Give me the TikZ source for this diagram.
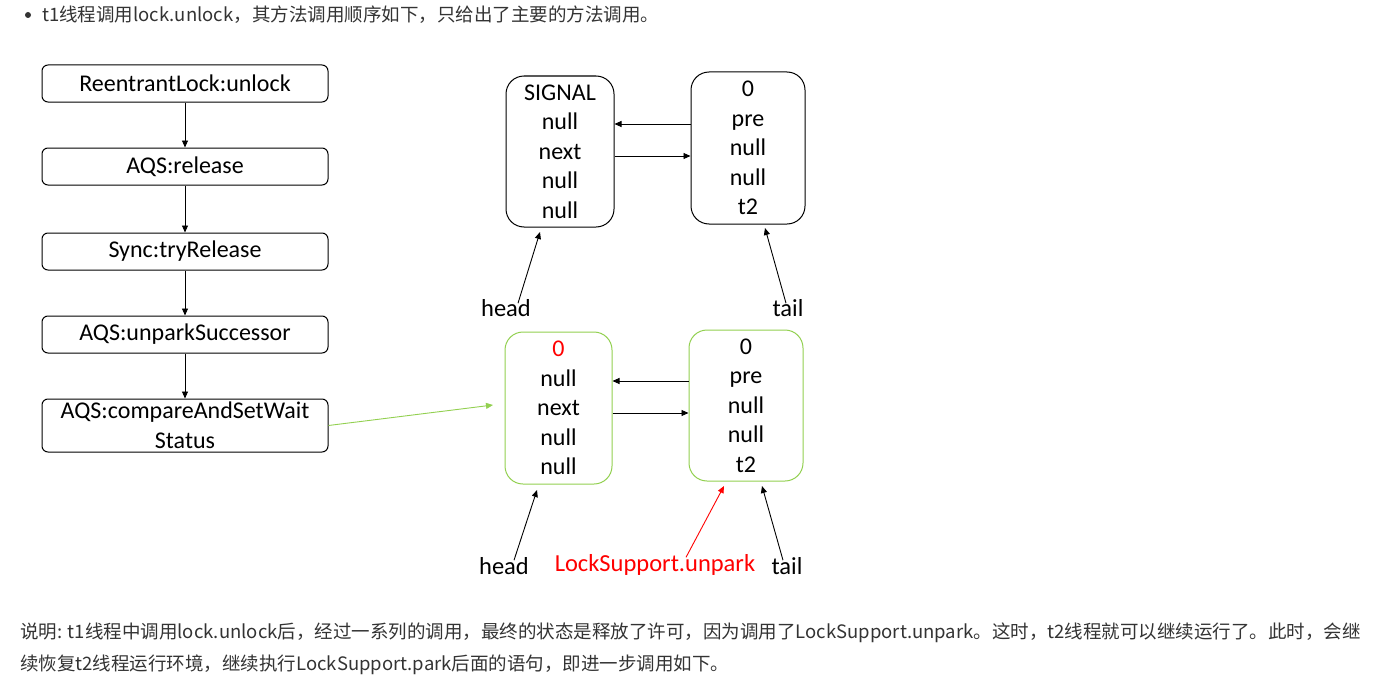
\documentclass[tikz,border=0pt]{standalone}
\usepackage{fontspec}
\setmainfont{Carlito}
\newfontfamily\cjk{Noto Sans CJK SC}
\usetikzlibrary{arrows.meta}
\definecolor{lgreen}{HTML}{92D050}
\definecolor{txtgray}{HTML}{333333}
\begin{document}
\begin{tikzpicture}[x=1pt,y=-1pt,
  callbox/.style={draw, rounded corners=6pt, line width=1pt, minimum width=286pt, inner sep=0pt, align=center, font=\fontsize{24}{29.5}\selectfont},
  nodebox/.style={draw, rounded corners=18pt, line width=1pt, inner sep=0pt, align=center, font=\fontsize{24}{29.6}\selectfont},
  arr/.style={-{Triangle[length=7pt,width=6pt]}, line width=0.9pt},
  lbl/.style={font=\fontsize{24.5}{28}\selectfont, inner sep=0pt},
  prose/.style={anchor=west, inner sep=0pt, text=txtgray, font=\cjk\fontsize{18.5}{22}\selectfont}
]
\useasboundingbox (0,0) rectangle (1381,677);
% header
\fill[txtgray] (28,15) circle (3pt);
\node[prose] (hdr) at (42,15) {t1线程调用lock.unlock，其方法调用顺序如下，只给出了主要的方法调用。};
% call chain
\node[callbox, minimum height=37pt] (c1) at (185,83.5) {ReentrantLock:unlock};
\node[callbox, minimum height=37pt] (c2) at (185,166.5) {AQS:release};
\node[callbox, minimum height=37pt] (c3) at (185,251.5) {Sync:tryRelease};
\node[callbox, minimum height=37pt] (c4) at (185,334.5) {AQS:unparkSuccessor};
\node[callbox, minimum height=53pt] (c5) at (185,425.5) {AQS:compareAndSetWait\\Status};
\draw[arr] (c1) -- (c2);
\draw[arr] (c2) -- (c3);
\draw[arr] (c3) -- (c4);
\draw[arr] (c4) -- (c5);
% top queue
\node[nodebox, minimum width=108pt, minimum height=151pt] (ta) at (560,151.5) {SIGNAL\\null\\next\\null\\null};
\node[nodebox, minimum width=114pt, minimum height=152pt] (tb) at (748,148) {0\\pre\\null\\null\\t2};
\draw[arr] ([yshift=24pt]tb.west) coordinate (tbw) -- (ta.east |- tbw);
\draw[arr] ([yshift=-4.5pt]ta.east) coordinate (tae) -- (tb.west |- tae);
\node[lbl] (thead) at (506,308) {head};
\node[lbl] (ttail) at (788,308) {tail};
\coordinate (tha) at (540,232);
\coordinate (tta) at (765,228);
\draw[arr] (thead.north) ++(12pt,-4pt) -- (tha);
\draw[arr] (ttail.north) ++(-2pt,-4pt) -- (tta);
% bottom queue
\node[nodebox, draw=lgreen, minimum width=107pt, minimum height=152pt] (ba) at (558.5,408) {\textcolor{red}{0}\\null\\next\\null\\null};
\node[nodebox, draw=lgreen, minimum width=114pt, minimum height=151pt] (bb) at (746,405.5) {0\\pre\\null\\null\\t2};
\draw[arr] ([yshift=24.5pt]bb.west) coordinate (bbw) -- (ba.east |- bbw);
\draw[arr] ([yshift=-5pt]ba.east) coordinate (bae) -- (bb.west |- bae);
\node[lbl] (bhead) at (504,566) {head};
\node[lbl, text=red] (bunpark) at (655,565) {LockSupport.unpark};
\node[lbl] (btail) at (787,566) {tail};
\coordinate (bha) at (537,490);
\coordinate (bua) at (724,486);
\coordinate (bta) at (762,486);
\draw[arr] (bhead.north) ++(10pt,-3pt) -- (bha);
\draw[arr, red] (bunpark.north) ++(31pt,-3pt) -- (bua);
\draw[arr] (btail.north) ++(-4pt,-3pt) -- (bta);
% green connector
\coordinate (gend) at (493,405);
\draw[arr, lgreen] (c5.east) -- (gend);
% footer
\node[prose] (f1) at (20,633) {说明: t1线程中调用lock.unlock后，经过一系列的调用，最终的状态是释放了许可，因为调用了LockSupport.unpark。这时，t2线程就可以继续运行了。此时，会继};
\node[prose] (f2) at (20,665) {续恢复t2线程运行环境，继续执行LockSupport.park后面的语句，即进一步调用如下。};
\end{tikzpicture}
\end{document}
